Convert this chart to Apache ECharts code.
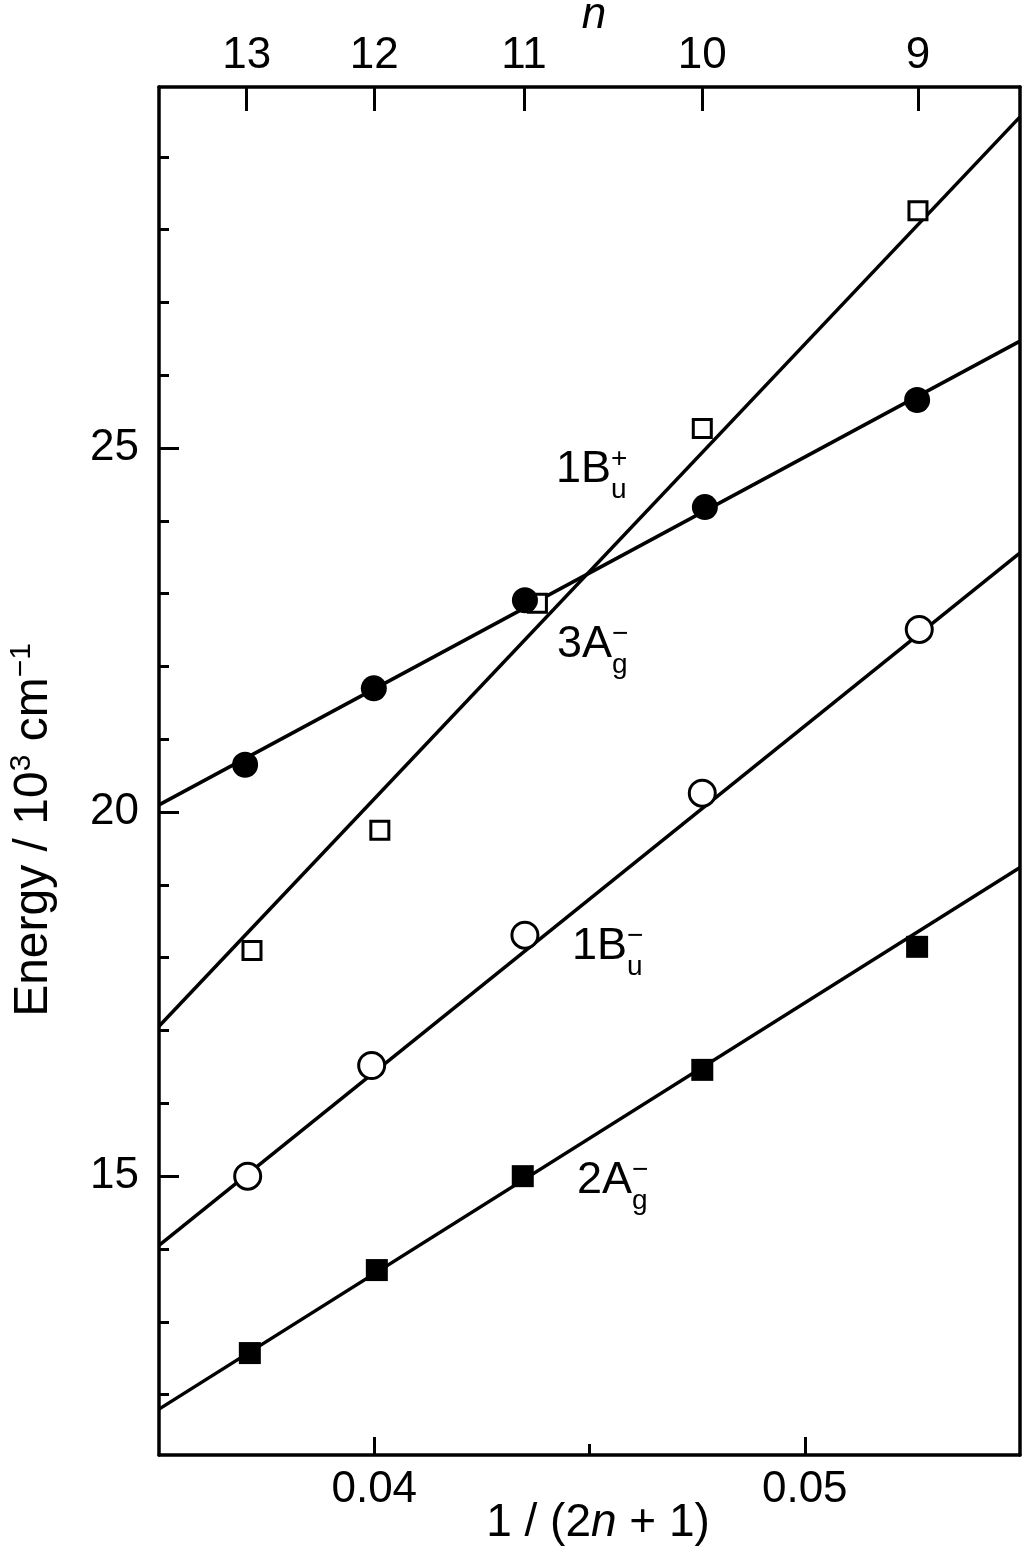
<!DOCTYPE html>
<html>
<head>
<meta charset="utf-8">
<script src="https://cdn.jsdelivr.net/npm/echarts@6/dist/echarts.min.js"></script>
<style>
  html, body { margin: 0; padding: 0; background: #fff; }
  #chart { width: 1024px; height: 1546px; }
</style>
</head>
<body>
<div id="chart"></div>
<script>
// n values shown on the top axis (placed at 1/(2n+1))
const nValues = [13, 12, 11, 10, 9];
const xMajorTicks = [0.04, 0.05];
const xMinorTicks = [0.045];
const yMajorTicks = [15, 20, 25];
const yMinorTicks = [12, 13, 14, 16, 17, 18, 19, 21, 22, 23, 24, 26, 27, 28, 29];

// filled circles
const filledCircleX = [0.03700, 0.03999, 0.04350, 0.04768, 0.05261];
const filledCircleY = [20.65, 21.70, 22.91, 24.19, 25.66];
// open squares
const openSquareX = [0.03716, 0.04013, 0.04379, 0.04762, 0.05263];
const openSquareY = [18.10, 19.75, 22.87, 25.27, 28.26];
// open circles
const openCircleX = [0.03706, 0.03994, 0.04350, 0.04762, 0.05266];
const openCircleY = [15.00, 16.52, 18.31, 20.26, 22.51];
// filled squares
const filledSquareX = [0.03711, 0.04006, 0.04345, 0.04762, 0.05261];
const filledSquareY = [12.57, 13.71, 15.00, 16.46, 18.15];

// fitted straight lines, evaluated at the plot edges
const fitX = [0.035, 0.055];
const fitFilledCircle = [20.10, 26.47];
const fitOpenSquare = [17.06, 29.55];
const fitOpenCircle = [14.05, 23.56];
const fitFilledSquare = [11.80, 19.24];

const FONT = "'Liberation Sans', Arial, sans-serif";
const xMin = 0.035, xMax = 0.055;
const yMin = 11.17, yMax = 29.96;

function pairs (xs, ys) {
  return xs.map((x, i) => [x, ys[i]]);
}

function fitLine (ys) {
  return {
    type: 'line',
    data: pairs(fitX, ys),
    showSymbol: false,
    silent: true,
    lineStyle: { color: '#000', width: 3.5 },
    z: 2
  };
}

function stateLabel (x, y, main, sub, sup) {
  return {
    type: 'group',
    x: x,
    y: y,
    children: [
      { type: 'text', x: 0, y: 0, style: { text: main, fontSize: 45, fontFamily: FONT, fill: '#000', align: 'left', verticalAlign: 'middle' } },
      { type: 'text', x: main.length * 26 + 3, y: 20, style: { text: sub, fontSize: 28, fontFamily: FONT, fill: '#000', align: 'left', verticalAlign: 'middle' } },
      { type: 'text', x: main.length * 26 + 3, y: -11, style: { text: sup, fontSize: 28, fontFamily: FONT, fill: '#000', align: 'left', verticalAlign: 'middle' } }
    ]
  };
}

const nTickValues = nValues.map(n => 1 / (2 * n + 1));

const option = {
  animation: false,
  backgroundColor: '#fff',
  grid: { left: 159, right: 4, top: 87, bottom: 91 },
  xAxis: [
    {
      type: 'value', position: 'bottom', min: xMin, max: xMax,
      axisLine: { show: true, lineStyle: { color: '#000', width: 3.5 } },
      axisTick: { show: true, inside: true, length: 18, customValues: xMajorTicks, lineStyle: { color: '#000', width: 3 } },
      axisLabel: { customValues: xMajorTicks, formatter: v => v.toFixed(2), fontSize: 44, fontFamily: FONT, color: '#000', margin: 13 },
      splitLine: { show: false }
    },
    {
      type: 'value', position: 'bottom', min: xMin, max: xMax,
      axisLine: { show: false },
      axisTick: { show: true, inside: true, length: 11, customValues: xMinorTicks, lineStyle: { color: '#000', width: 3 } },
      axisLabel: { show: false },
      splitLine: { show: false }
    },
    {
      type: 'value', position: 'top', min: xMin, max: xMax,
      axisLine: { show: true, lineStyle: { color: '#000', width: 3.5 } },
      axisTick: { show: true, inside: true, length: 24, customValues: nTickValues, lineStyle: { color: '#000', width: 3 } },
      axisLabel: {
        customValues: nTickValues,
        formatter: v => String(Math.round((1 / v - 1) / 2)),
        fontSize: 44, fontFamily: FONT, color: '#000', margin: 9
      },
      splitLine: { show: false }
    }
  ],
  yAxis: [
    {
      type: 'value', position: 'left', min: yMin, max: yMax,
      axisLine: { show: true, lineStyle: { color: '#000', width: 3.5 } },
      axisTick: { show: true, inside: true, length: 20, customValues: yMajorTicks, lineStyle: { color: '#000', width: 3 } },
      axisLabel: { customValues: yMajorTicks, fontSize: 44, fontFamily: FONT, color: '#000', margin: 20 },
      splitLine: { show: false }
    },
    {
      type: 'value', position: 'left', min: yMin, max: yMax,
      axisLine: { show: false },
      axisTick: { show: true, inside: true, length: 10, customValues: yMinorTicks, lineStyle: { color: '#000', width: 3 } },
      axisLabel: { show: false },
      splitLine: { show: false }
    },
    {
      type: 'value', position: 'right', min: yMin, max: yMax,
      axisLine: { show: true, lineStyle: { color: '#000', width: 3.5 } },
      axisTick: { show: false },
      axisLabel: { show: false },
      splitLine: { show: false }
    }
  ],
  series: [
    fitLine(fitFilledCircle),
    fitLine(fitOpenSquare),
    fitLine(fitOpenCircle),
    fitLine(fitFilledSquare),
    {
      type: 'scatter', data: pairs(openSquareX, openSquareY),
      symbol: 'rect', symbolSize: 18,
      itemStyle: { color: '#fff', borderColor: '#000', borderWidth: 3, opacity: 1 }, z: 3
    },
    {
      type: 'scatter', data: pairs(filledSquareX, filledSquareY),
      symbol: 'rect', symbolSize: 22,
      itemStyle: { color: '#000', opacity: 1 }, z: 3
    },
    {
      type: 'scatter', data: pairs(openCircleX, openCircleY),
      symbol: 'circle', symbolSize: 26,
      itemStyle: { color: '#fff', borderColor: '#000', borderWidth: 3, opacity: 1 }, z: 3
    },
    {
      type: 'scatter', data: pairs(filledCircleX, filledCircleY),
      symbol: 'circle', symbolSize: 26,
      itemStyle: { color: '#000', opacity: 1 }, z: 4
    }
  ],
  graphic: [
    // top axis name
    { type: 'text', x: 594, y: 16, style: { text: 'n', fontSize: 44, fontStyle: 'italic', fontFamily: FONT, fill: '#000', align: 'center', verticalAlign: 'middle' } },
    // bottom axis name
    {
      type: 'text', x: 598, y: 1523,
      style: {
        text: '{a|1 / (2}{i|n}{a| + 1)}',
        fill: '#000', align: 'center', verticalAlign: 'middle',
        rich: {
          a: { fontSize: 46, fontFamily: FONT, fill: '#000' },
          i: { fontSize: 46, fontFamily: FONT, fontStyle: 'italic', fill: '#000' }
        }
      }
    },
    // left axis name
    {
      type: 'text', x: 34, y: 830, rotation: Math.PI / 2,
      style: {
        text: '{a|Energy / 10}{s|3}{a| cm}{s|−1}',
        fill: '#000', align: 'center', verticalAlign: 'middle',
        rich: {
          a: { fontSize: 48, fontFamily: FONT, fill: '#000', lineHeight: 54 },
          s: { fontSize: 30, fontFamily: FONT, fill: '#000', verticalAlign: 'top', lineHeight: 28 }
        }
      }
    },
    stateLabel(556, 470, '1B', 'u', '+'),
    stateLabel(557, 645, '3A', 'g', '−'),
    stateLabel(572, 947, '1B', 'u', '−'),
    stateLabel(577, 1181, '2A', 'g', '−')
  ]
};

const chart = echarts.init(document.getElementById('chart'), null, { renderer: 'canvas' });
chart.setOption(option);
</script>
</body>
</html>
